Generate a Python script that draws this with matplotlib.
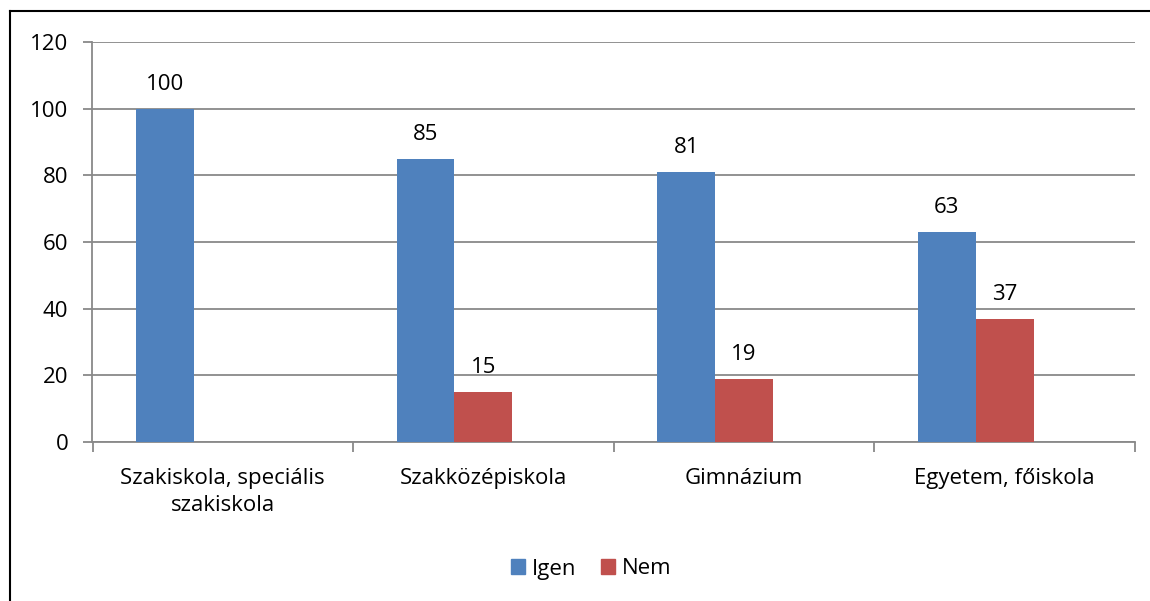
import numpy as np
import matplotlib
matplotlib.use("Agg")
import matplotlib.pyplot as plt
from matplotlib.lines import Line2D
from matplotlib.patches import Patch

plt.rcParams['font.family'] = ['Open Sans', 'DejaVu Sans']

categories = ["Szakiskola, speciális\nszakiskola", "Szakközépiskola", "Gimnázium", "Egyetem, főiskola"]
igen = [100, 85, 81, 63]
nem = [0, 15, 19, 37]
series_names = ["Igen", "Nem"]

blue = "#4F81BD"
red = "#C0504D"
grid_col = "#898989"
fs = 16

W, H = 1150, 601
fig = plt.figure(figsize=(W / 100, H / 100), dpi=100)
ax = fig.add_axes([92.5 / W, (H - 442) / H, (1135 - 92.5) / W, 400 / H])

x = np.arange(len(categories))
w = 1 / 4.5  # three bar slots (third empty) with 150% gap
b1 = ax.bar(x - w, igen, w, color=blue, zorder=3)
b2 = ax.bar(x, nem, w, color=red, zorder=3)

for bars, vals in ((b1, igen), (b2, nem)):
    for rect, v in zip(bars, vals):
        if v == 0:
            continue
        ax.annotate(str(v), (rect.get_x() + rect.get_width() / 2, v),
                    xytext=(0, 10), textcoords="offset points",
                    ha="center", va="bottom", fontsize=fs)

ax.set_xlim(-0.5, len(categories) - 0.5)
ax.set_ylim(0, 120)
ax.set_yticks(range(0, 121, 20))
ax.yaxis.grid(True, color=grid_col, linewidth=1.3, zorder=0)

ax.set_xticks(x)
ax.set_xticklabels(categories, fontsize=fs, linespacing=1.35)
ax.set_xticks(np.arange(-0.5, len(categories), 1), minor=True)
ax.tick_params(axis="x", which="major", length=0, pad=19)
ax.tick_params(axis="x", which="minor", length=7, color=grid_col, width=1.3)
ax.tick_params(axis="y", length=6.5, color=grid_col, width=1.3, labelsize=fs, pad=11)

for s in ("top", "right"):
    ax.spines[s].set_visible(False)
for s in ("left", "bottom"):
    ax.spines[s].set_color(grid_col)
    ax.spines[s].set_linewidth(1.3)

handles = [Patch(color=blue), Patch(color=red)]
fig.legend(handles, series_names, loc="center", bbox_to_anchor=(591 / W, 1 - 569 / H),
           ncol=2, frameon=False, fontsize=fs, handlelength=0.65, handleheight=0.65,
           handletextpad=0.3, columnspacing=1.1)

# outer border (top and left only visible)
fig.add_artist(Line2D([10 / W, 1], [1 - 11 / H, 1 - 11 / H], color="black", linewidth=1.5,
                      transform=fig.transFigure))
fig.add_artist(Line2D([10 / W, 10 / W], [0, 1 - 11 / H], color="black", linewidth=1.5,
                      transform=fig.transFigure))

fig.savefig("out.png", dpi=100)
